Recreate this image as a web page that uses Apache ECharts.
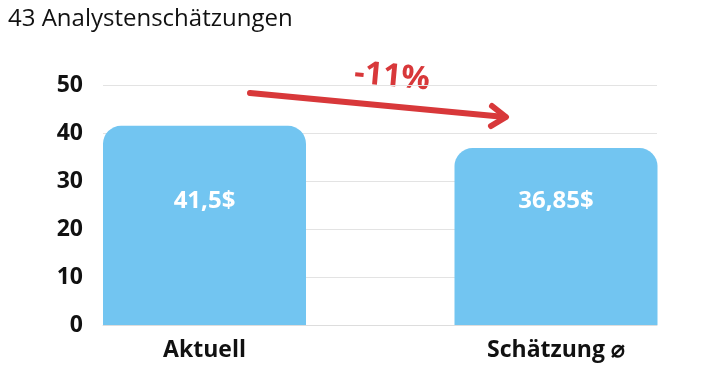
<!DOCTYPE html>
<html><head><meta charset="utf-8">
<script src="https://cdn.jsdelivr.net/npm/echarts@6/dist/echarts.min.js"></script>
<style>html,body{margin:0;padding:0;background:#fff}#c{width:720px;height:379px}</style>
</head><body><div id="c"></div>
<script>
const categories = ['Aktuell', 'Schätzung ⌀'];
const values = [41.5, 36.85];
const valueLabels = ['41,5$', '36,85$'];
const yTicks = [0, 10, 20, 30, 40, 50];
const title = '43 Analystenschätzungen';
const changeLabel = '-11%';

const font = '"Open Sans", "Noto Sans", sans-serif';
const red = '#D8383A';
const chart = echarts.init(document.getElementById('c'));
chart.setOption({
  animation: false,
  title: { text: title, left: 3, top: 2, textStyle: { fontFamily: font, fontWeight: 'normal', fontSize: 24, color: '#111' } },
  grid: [
    { left: 103, right: 63, top: 85, bottom: 54 },
    { left: 204.5, width: 351.5, top: 85, bottom: 54 }
  ],
  xAxis: [
    { gridIndex: 0, type: 'category', data: [''], axisLine: { lineStyle: { color: '#ddd' } }, axisTick: { show: false }, axisLabel: { show: false } },
    { gridIndex: 1, type: 'category', boundaryGap: false, data: categories, axisLine: { show: false }, axisTick: { show: false },
      axisLabel: { margin: 14, color: '#111', fontFamily: font, fontWeight: 'bold', fontSize: 23,
        rich: {} } }
  ],
  yAxis: [
    { gridIndex: 0, type: 'value', min: yTicks[0], max: yTicks[yTicks.length - 1], interval: 10,
      axisLine: { show: false }, axisTick: { show: false },
      splitLine: { lineStyle: { color: '#e3e3e3' } },
      axisLabel: { margin: 20, color: '#111', fontFamily: font, fontWeight: 'bold', fontSize: 23 } },
    { gridIndex: 1, type: 'value', min: yTicks[0], max: yTicks[yTicks.length - 1], interval: 10, show: false }
  ],
  series: [{
    type: 'bar', xAxisIndex: 1, yAxisIndex: 1, clip: false,
    barWidth: 203,
    data: values.map((v, i) => ({ value: v, label: { position: ['50%', [75, 53][i]] } })),
    itemStyle: { color: '#72C5F1', borderRadius: [18, 18, 0, 0] },
    label: { show: true, align: 'center', verticalAlign: 'middle', color: '#fff', fontFamily: font, fontWeight: 'bold', fontSize: 24,
      formatter: p => valueLabels[p.dataIndex] }
  }],
  graphic: [
    { type: 'line', shape: { x1: 250, y1: 93, x2: 505, y2: 117 }, style: { stroke: red, lineWidth: 6, lineCap: 'round' } },
    { type: 'polyline', shape: { points: [[492, 106], [506, 117], [491, 126]] }, style: { stroke: red, lineWidth: 6, lineCap: 'round', lineJoin: 'round', fill: null } },
    { type: 'text', x: 392, y: 77, rotation: -0.09, style: { text: changeLabel, fill: red, font: 'bold 32px ' + font, align: 'center', verticalAlign: 'middle' } }
  ]
});
</script></body></html>
